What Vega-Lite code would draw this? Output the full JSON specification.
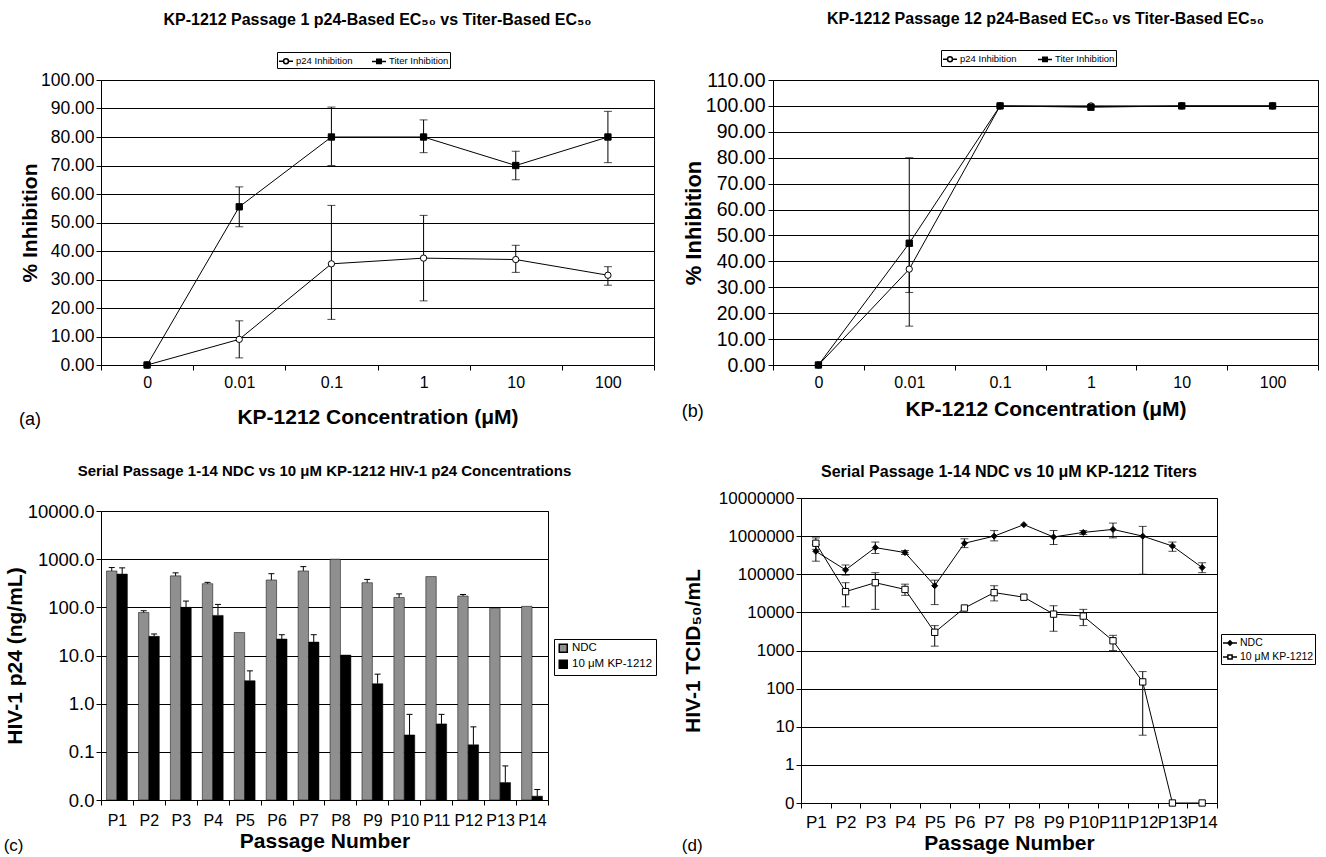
{
  "$schema": "https://vega.github.io/schema/vega-lite/v6.json",
  "padding": {"left": 3, "top": 10, "right": 0, "bottom": 0},
  "background": "white",
  "config": {
    "font": "Liberation Sans",
    "view": {"stroke": "black", "strokeWidth": 1},
    "axis": {"labelColor": "black", "titleColor": "black", "domainColor": "black", "tickColor": "black", "gridColor": "black", "gridOpacity": 1, "gridWidth": 1, "labelFont": "Liberation Sans", "titleFont": "Liberation Sans", "titleFontWeight": "bold", "tickSize": 5, "labelOverlap": false},
    "title": {"color": "black", "fontWeight": "bold", "font": "Liberation Sans"},
    "legend": {"labelColor": "black", "labelFont": "Liberation Sans"}
  },
  "resolve": {"scale": {"fill": "independent", "shape": "independent"}, "legend": {"fill": "independent", "shape": "independent"}},
  "datasets": {
    "a": [
      {"conc": "0", "series": "p24 Inhibition", "val": 0, "lo": null, "hi": null},
      {"conc": "0.01", "series": "p24 Inhibition", "val": 9, "lo": 2.5, "hi": 15.5},
      {"conc": "0.1", "series": "p24 Inhibition", "val": 35.5, "lo": 16, "hi": 56},
      {"conc": "1", "series": "p24 Inhibition", "val": 37.5, "lo": 22.5, "hi": 52.5},
      {"conc": "10", "series": "p24 Inhibition", "val": 37, "lo": 32.5, "hi": 42},
      {"conc": "100", "series": "p24 Inhibition", "val": 31.5, "lo": 28, "hi": 34.5},
      {"conc": "0", "series": "Titer Inhibition", "val": 0, "lo": null, "hi": null},
      {"conc": "0.01", "series": "Titer Inhibition", "val": 55.5, "lo": 48.5, "hi": 62.5},
      {"conc": "0.1", "series": "Titer Inhibition", "val": 80, "lo": 70, "hi": 90.5},
      {"conc": "1", "series": "Titer Inhibition", "val": 80, "lo": 74.5, "hi": 86},
      {"conc": "10", "series": "Titer Inhibition", "val": 70, "lo": 65, "hi": 75},
      {"conc": "100", "series": "Titer Inhibition", "val": 80, "lo": 71, "hi": 89}
    ],
    "b": [
      {"conc": "0", "series": "p24 Inhibition", "val": 0, "lo": null, "hi": null},
      {"conc": "0.01", "series": "p24 Inhibition", "val": 37, "lo": 28, "hi": 46},
      {"conc": "0.1", "series": "p24 Inhibition", "val": 100, "lo": null, "hi": null},
      {"conc": "1", "series": "p24 Inhibition", "val": 100, "lo": null, "hi": null},
      {"conc": "10", "series": "p24 Inhibition", "val": 100, "lo": null, "hi": null},
      {"conc": "100", "series": "p24 Inhibition", "val": 100, "lo": null, "hi": null},
      {"conc": "0", "series": "Titer Inhibition", "val": 0, "lo": null, "hi": null},
      {"conc": "0.01", "series": "Titer Inhibition", "val": 47, "lo": 15, "hi": 80},
      {"conc": "0.1", "series": "Titer Inhibition", "val": 100, "lo": null, "hi": null},
      {"conc": "1", "series": "Titer Inhibition", "val": 99.5, "lo": null, "hi": null},
      {"conc": "10", "series": "Titer Inhibition", "val": 100, "lo": null, "hi": null},
      {"conc": "100", "series": "Titer Inhibition", "val": 100, "lo": null, "hi": null}
    ],
    "c": [
      {"passage": "P1", "group": "NDC", "val": 570, "err": 670},
      {"passage": "P2", "group": "NDC", "val": 78, "err": 85},
      {"passage": "P3", "group": "NDC", "val": 450, "err": 520},
      {"passage": "P4", "group": "NDC", "val": 310, "err": 330},
      {"passage": "P5", "group": "NDC", "val": 30, "err": null},
      {"passage": "P6", "group": "NDC", "val": 370, "err": 500},
      {"passage": "P7", "group": "NDC", "val": 570, "err": 700},
      {"passage": "P8", "group": "NDC", "val": 1000, "err": null},
      {"passage": "P9", "group": "NDC", "val": 325, "err": 380},
      {"passage": "P10", "group": "NDC", "val": 160, "err": 190},
      {"passage": "P11", "group": "NDC", "val": 435, "err": null},
      {"passage": "P12", "group": "NDC", "val": 172, "err": 185},
      {"passage": "P13", "group": "NDC", "val": 95, "err": null},
      {"passage": "P14", "group": "NDC", "val": 105, "err": null},
      {"passage": "P1", "group": "10 μM KP-1212", "val": 490, "err": 660},
      {"passage": "P2", "group": "10 μM KP-1212", "val": 25, "err": 28},
      {"passage": "P3", "group": "10 μM KP-1212", "val": 100, "err": 135},
      {"passage": "P4", "group": "10 μM KP-1212", "val": 68, "err": 115},
      {"passage": "P5", "group": "10 μM KP-1212", "val": 3.0, "err": 4.8},
      {"passage": "P6", "group": "10 μM KP-1212", "val": 22, "err": 27},
      {"passage": "P7", "group": "10 μM KP-1212", "val": 19, "err": 27},
      {"passage": "P8", "group": "10 μM KP-1212", "val": 10.2, "err": null},
      {"passage": "P9", "group": "10 μM KP-1212", "val": 2.6, "err": 4.1},
      {"passage": "P10", "group": "10 μM KP-1212", "val": 0.224, "err": 0.6},
      {"passage": "P11", "group": "10 μM KP-1212", "val": 0.38, "err": 0.6},
      {"passage": "P12", "group": "10 μM KP-1212", "val": 0.14, "err": 0.33},
      {"passage": "P13", "group": "10 μM KP-1212", "val": 0.023, "err": 0.051},
      {"passage": "P14", "group": "10 μM KP-1212", "val": 0.012, "err": 0.0165}
    ],
    "d": [
      {"passage": "P1", "group": "NDC", "val": 400000, "lo": 220000, "hi": 600000},
      {"passage": "P2", "group": "NDC", "val": 130000, "lo": 95000, "hi": 175000},
      {"passage": "P3", "group": "NDC", "val": 500000, "lo": 350000, "hi": 700000},
      {"passage": "P4", "group": "NDC", "val": 370000, "lo": 330000, "hi": 420000},
      {"passage": "P5", "group": "NDC", "val": 50000, "lo": 16000, "hi": 70000},
      {"passage": "P6", "group": "NDC", "val": 650000, "lo": 500000, "hi": 850000},
      {"passage": "P7", "group": "NDC", "val": 1000000, "lo": 750000, "hi": 1400000},
      {"passage": "P8", "group": "NDC", "val": 2000000, "lo": null, "hi": null},
      {"passage": "P9", "group": "NDC", "val": 950000, "lo": 600000, "hi": 1400000},
      {"passage": "P10", "group": "NDC", "val": 1250000, "lo": 1100000, "hi": 1400000},
      {"passage": "P11", "group": "NDC", "val": 1500000, "lo": 900000, "hi": 2200000},
      {"passage": "P12", "group": "NDC", "val": 1000000, "lo": 100000, "hi": 1800000},
      {"passage": "P13", "group": "NDC", "val": 550000, "lo": 400000, "hi": 700000},
      {"passage": "P14", "group": "NDC", "val": 150000, "lo": 110000, "hi": 200000},
      {"passage": "P1", "group": "10 μM KP-1212", "val": 650000, "lo": 450000, "hi": 900000},
      {"passage": "P2", "group": "10 μM KP-1212", "val": 35000, "lo": 14000, "hi": 60000},
      {"passage": "P3", "group": "10 μM KP-1212", "val": 60000, "lo": 12000, "hi": 110000},
      {"passage": "P4", "group": "10 μM KP-1212", "val": 40000, "lo": 28000, "hi": 55000},
      {"passage": "P5", "group": "10 μM KP-1212", "val": 3000, "lo": 1300, "hi": 4500},
      {"passage": "P6", "group": "10 μM KP-1212", "val": 13000, "lo": null, "hi": null},
      {"passage": "P7", "group": "10 μM KP-1212", "val": 33000, "lo": 20000, "hi": 50000},
      {"passage": "P8", "group": "10 μM KP-1212", "val": 25000, "lo": null, "hi": null},
      {"passage": "P9", "group": "10 μM KP-1212", "val": 9000, "lo": 3200, "hi": 15000},
      {"passage": "P10", "group": "10 μM KP-1212", "val": 8000, "lo": 4500, "hi": 12000},
      {"passage": "P11", "group": "10 μM KP-1212", "val": 1800, "lo": 1000, "hi": 2500},
      {"passage": "P12", "group": "10 μM KP-1212", "val": 150, "lo": 6, "hi": 280},
      {"passage": "P13", "group": "10 μM KP-1212", "val": 0.1, "lo": null, "hi": null},
      {"passage": "P14", "group": "10 μM KP-1212", "val": 0.1, "lo": null, "hi": null}
    ]
  },
  "columns": 2,
  "align": "none",
  "spacing": {"row": 34, "column": 24},
  "concat": [
    {
      "title": {"text": "(a)", "orient": "bottom", "anchor": "start", "fontSize": 18, "fontWeight": "normal", "offset": -17},
      "vconcat": [
        {
          "width": 553, "height": 285,
          "data": {"name": "a"},
          "title": {"text": "KP-1212 Passage 1 p24-Based EC₅₀ vs Titer-Based EC₅₀", "fontSize": 16, "offset": 43},
          "encoding": {
            "x": {"field": "conc", "type": "nominal", "sort": ["0", "0.01", "0.1", "1", "10", "100"], "scale": {"type": "band", "paddingInner": 0, "paddingOuter": 0},
              "axis": {"title": "KP-1212 Concentration (μM)", "labelAngle": 0, "tickBand": "extent", "labelFontSize": 16, "labelPadding": 4, "titleFontSize": 21, "titlePadding": 16, "grid": false, "domain": false}},
            "y": {"field": "val", "type": "quantitative", "title": "% Inhibition", "scale": {"domain": [0, 100], "nice": false}, "axis": {"values": [0, 10, 20, 30, 40, 50, 60, 70, 80, 90, 100], "format": ".2f", "labelFontSize": 17.5, "titleFontSize": 21, "titlePadding": 0, "labelPadding": 2, "domain": false, "grid": true}}
          },
          "layer": [
            {"mark": {"type": "line", "color": "black", "strokeWidth": 1}, "encoding": {"detail": {"field": "series"}}},
            {"transform": [{"filter": "isValid(datum.lo)"}],
              "mark": {"type": "errorbar", "ticks": {"size": 8, "color": "black"}, "rule": {"color": "black"}, "color": "black"},
              "encoding": {"y": {"field": "lo", "type": "quantitative", "title": "% Inhibition"}, "y2": {"field": "hi"}}},
            {"transform": [{"filter": "datum.series == 'p24 Inhibition'"}],
              "mark": {"type": "point", "shape": "circle", "filled": true, "fill": "white", "stroke": "black", "strokeWidth": 1, "opacity": 1, "size": 40}},
            {"transform": [{"filter": "datum.series == 'Titer Inhibition'"}],
              "mark": {"type": "point", "shape": "square", "filled": true, "fill": "black", "stroke": "black", "strokeWidth": 1, "opacity": 1, "size": 40}},
            {"transform": [{"filter": "false"}],
              "mark": {"type": "point", "filled": true, "stroke": "black", "strokeWidth": 1, "opacity": 1},
              "encoding": {
                "shape": {"field": "series", "type": "nominal", "scale": {"domain": ["p24 Inhibition", "Titer Inhibition"], "range": ["M-1,0H-0.35M0.35,0H1M0.35,0A0.35,0.35,0,1,1,-0.35,0A0.35,0.35,0,1,1,0.35,0Z", "M-1,0H-0.32M0.32,0H1M-0.32,-0.32H0.32V0.32H-0.32Z"]},
                  "legend": {"orient": "none", "legendX": 176, "legendY": -28, "direction": "horizontal", "title": null, "strokeColor": "black", "padding": 1, "labelFontSize": 9.5, "labelOffset": 2, "columnPadding": 16, "symbolSize": 196, "encode": {"symbols": {"update": {"stroke": {"value": "black"}, "strokeWidth": {"value": 1}}}}}},
                "fill": {"field": "series", "type": "nominal", "scale": {"domain": ["p24 Inhibition", "Titer Inhibition"], "range": ["white", "black"]},
                  "legend": {"orient": "none", "legendX": 176, "legendY": -28, "direction": "horizontal", "title": null, "strokeColor": "black", "padding": 1, "labelFontSize": 9.5, "labelOffset": 2, "columnPadding": 16, "symbolSize": 196, "encode": {"symbols": {"update": {"stroke": {"value": "black"}, "strokeWidth": {"value": 1}}}}}}
              }}
          ]
        }
      ]
    },
    {
      "title": {"text": "(b)", "orient": "bottom", "anchor": "start", "fontSize": 18, "fontWeight": "normal", "offset": -17},
      "vconcat": [
        {
          "width": 545, "height": 285,
          "data": {"name": "b"},
          "title": {"text": "KP-1212 Passage 12 p24-Based EC₅₀ vs Titer-Based EC₅₀", "fontSize": 16, "offset": 43},
          "encoding": {
            "x": {"field": "conc", "type": "nominal", "sort": ["0", "0.01", "0.1", "1", "10", "100"], "scale": {"type": "band", "paddingInner": 0, "paddingOuter": 0},
              "axis": {"title": "KP-1212 Concentration (μM)", "labelAngle": 0, "tickBand": "extent", "labelFontSize": 16, "labelPadding": 4, "titleFontSize": 21, "titlePadding": 8, "grid": false, "domain": false}},
            "y": {"field": "val", "type": "quantitative", "title": "% Inhibition", "scale": {"domain": [0, 110], "nice": false}, "axis": {"values": [0, 10, 20, 30, 40, 50, 60, 70, 80, 90, 100, 110], "format": ".2f", "labelFontSize": 19.5, "titleFontSize": 22, "titlePadding": 0, "labelPadding": 3, "domain": false, "grid": true}}
          },
          "layer": [
            {"mark": {"type": "line", "color": "black", "strokeWidth": 1}, "encoding": {"detail": {"field": "series"}}},
            {"transform": [{"filter": "isValid(datum.lo)"}],
              "mark": {"type": "errorbar", "ticks": {"size": 8, "color": "black"}, "rule": {"color": "black"}, "color": "black"},
              "encoding": {"y": {"field": "lo", "type": "quantitative", "title": "% Inhibition"}, "y2": {"field": "hi"}}},
            {"transform": [{"filter": "datum.series == 'p24 Inhibition'"}],
              "mark": {"type": "point", "shape": "circle", "filled": true, "fill": "white", "stroke": "black", "strokeWidth": 1, "opacity": 1, "size": 40}},
            {"transform": [{"filter": "datum.series == 'Titer Inhibition'"}],
              "mark": {"type": "point", "shape": "square", "filled": true, "fill": "black", "stroke": "black", "strokeWidth": 1, "opacity": 1, "size": 40}},
            {"transform": [{"filter": "false"}],
              "mark": {"type": "point", "filled": true, "stroke": "black", "strokeWidth": 1, "opacity": 1},
              "encoding": {
                "shape": {"field": "series", "type": "nominal", "scale": {"domain": ["p24 Inhibition", "Titer Inhibition"], "range": ["M-1,0H-0.35M0.35,0H1M0.35,0A0.35,0.35,0,1,1,-0.35,0A0.35,0.35,0,1,1,0.35,0Z", "M-1,0H-0.32M0.32,0H1M-0.32,-0.32H0.32V0.32H-0.32Z"]},
                  "legend": {"orient": "none", "legendX": 168, "legendY": -30, "direction": "horizontal", "title": null, "strokeColor": "black", "padding": 1, "labelFontSize": 9.5, "labelOffset": 2, "columnPadding": 18, "symbolSize": 196, "encode": {"symbols": {"update": {"stroke": {"value": "black"}, "strokeWidth": {"value": 1}}}}}},
                "fill": {"field": "series", "type": "nominal", "scale": {"domain": ["p24 Inhibition", "Titer Inhibition"], "range": ["white", "black"]},
                  "legend": {"orient": "none", "legendX": 168, "legendY": -30, "direction": "horizontal", "title": null, "strokeColor": "black", "padding": 1, "labelFontSize": 9.5, "labelOffset": 2, "columnPadding": 18, "symbolSize": 196, "encode": {"symbols": {"update": {"stroke": {"value": "black"}, "strokeWidth": {"value": 1}}}}}}
              }}
          ]
        }
      ]
    },
    {
      "title": {"text": "(c)", "orient": "bottom", "anchor": "start", "fontSize": 17, "fontWeight": "normal", "offset": -14},
      "vconcat": [
        {
          "width": 447, "height": 289,
          "data": {"name": "c"},
          "title": {"text": "Serial Passage 1-14 NDC vs 10 μM KP-1212 HIV-1 p24 Concentrations", "fontSize": 15, "offset": 23},
          "encoding": {
            "x": {"field": "passage", "type": "nominal", "sort": ["P1", "P2", "P3", "P4", "P5", "P6", "P7", "P8", "P9", "P10", "P11", "P12", "P13", "P14"], "scale": {"type": "band", "paddingInner": 0, "paddingOuter": 0},
              "axis": {"title": "Passage Number", "labelAngle": 0, "tickBand": "extent", "labelFontSize": 16, "labelPadding": 7, "titleFontSize": 21, "titlePadding": 2, "grid": false, "domain": false}},
            "xOffset": {"field": "group", "type": "nominal", "sort": ["NDC", "10 μM KP-1212"], "scale": {"paddingInner": 0, "paddingOuter": 0.53}},
            "y": {"field": "val", "type": "quantitative", "title": "HIV-1 p24 (ng/mL)", "scale": {"type": "log", "domain": [0.01, 10000], "nice": false}, "axis": {"values": [0.01, 0.1, 1, 10, 100, 1000, 10000], "format": ".1f", "labelFontSize": 18.5, "titleFontSize": 21, "titlePadding": 2, "labelPadding": 2, "domain": false, "grid": true}}
          },
          "layer": [
            {"mark": {"type": "bar", "stroke": "black", "strokeWidth": 0.5},
              "encoding": {
                "y2": {"datum": 0.01},
                "fill": {"field": "group", "type": "nominal", "scale": {"domain": ["NDC", "10 μM KP-1212"], "range": ["#8f8f8f", "black"]},
                  "legend": {"orient": "none", "legendX": 453, "legendY": 128, "direction": "vertical", "title": null, "strokeColor": "black", "padding": 3.5, "labelFontSize": 11.5, "labelOffset": 3, "rowPadding": 1, "symbolType": "square", "symbolSize": 64,
                    "encode": {"symbols": {"update": {"stroke": {"value": "black"}, "strokeWidth": {"value": 0.5}}}}}}
              }},
            {"transform": [{"filter": "isValid(datum.err)"}],
              "mark": {"type": "rule", "color": "black", "strokeWidth": 1},
              "encoding": {"y2": {"field": "err"}}},
            {"transform": [{"filter": "isValid(datum.err)"}],
              "mark": {"type": "tick", "color": "black", "thickness": 1, "size": 6, "orient": "horizontal", "opacity": 1},
              "encoding": {"y": {"field": "err", "type": "quantitative", "title": "HIV-1 p24 (ng/mL)"}}}
          ]
        }
      ]
    },
    {
      "title": {"text": "(d)", "orient": "bottom", "anchor": "start", "fontSize": 17, "fontWeight": "normal", "offset": -16},
      "vconcat": [
        {
          "width": 416, "height": 305,
          "data": {"name": "d"},
          "title": {"text": "Serial Passage 1-14 NDC vs 10 μM KP-1212 Titers", "fontSize": 16, "offset": 9},
          "encoding": {
            "x": {"field": "passage", "type": "nominal", "sort": ["P1", "P2", "P3", "P4", "P5", "P6", "P7", "P8", "P9", "P10", "P11", "P12", "P13", "P14"], "scale": {"type": "band", "paddingInner": 0, "paddingOuter": 0},
              "axis": {"title": "Passage Number", "labelAngle": 0, "tickBand": "extent", "labelFontSize": 17, "labelPadding": 6, "titleFontSize": 21, "titlePadding": 2, "grid": false, "domain": false}},
            "y": {"field": "val", "type": "quantitative", "title": "HIV-1 TCID₅₀/mL", "scale": {"type": "log", "domain": [0.1, 10000000], "nice": false}, "axis": {"values": [0.1, 1, 10, 100, 1000, 10000, 100000, 1000000, 10000000], "format": ".0f", "labelFontSize": 17, "titleFontSize": 21, "titlePadding": 15, "labelPadding": 2, "domain": false, "grid": true}}
          },
          "layer": [
            {"mark": {"type": "line", "color": "black", "strokeWidth": 1}, "encoding": {"detail": {"field": "group"}}},
            {"transform": [{"filter": "isValid(datum.lo)"}],
              "mark": {"type": "errorbar", "ticks": {"size": 8, "color": "black"}, "rule": {"color": "black"}, "color": "black"},
              "encoding": {"y": {"field": "lo", "type": "quantitative", "title": "HIV-1 TCID₅₀/mL"}, "y2": {"field": "hi"}}},
            {"transform": [{"filter": "datum.group == 'NDC'"}],
              "mark": {"type": "point", "shape": "diamond", "filled": true, "fill": "black", "stroke": "black", "strokeWidth": 1, "opacity": 1, "size": 36}},
            {"transform": [{"filter": "datum.group != 'NDC'"}],
              "mark": {"type": "point", "shape": "square", "filled": true, "fill": "white", "stroke": "black", "strokeWidth": 1, "opacity": 1, "size": 40}},
            {"transform": [{"filter": "false"}],
              "mark": {"type": "point", "filled": true, "stroke": "black", "strokeWidth": 1, "opacity": 1},
              "encoding": {
                "shape": {"field": "group", "type": "nominal", "scale": {"domain": ["NDC", "10 μM KP-1212"], "range": ["M-1,0H-0.32M0.32,0H1M0,-0.32L0.32,0L0,0.32L-0.32,0Z", "M-1,0H-0.3M0.3,0H1M-0.3,-0.3H0.3V0.3H-0.3Z"]},
                  "legend": {"orient": "none", "legendX": 420, "legendY": 136, "direction": "vertical", "title": null, "strokeColor": "black", "padding": 1, "labelFontSize": 10.5, "labelOffset": 2, "rowPadding": 0, "symbolSize": 196, "encode": {"symbols": {"update": {"stroke": {"value": "black"}, "strokeWidth": {"value": 1}}}}}},
                "fill": {"field": "group", "type": "nominal", "scale": {"domain": ["NDC", "10 μM KP-1212"], "range": ["black", "white"]},
                  "legend": {"orient": "none", "legendX": 420, "legendY": 136, "direction": "vertical", "title": null, "strokeColor": "black", "padding": 1, "labelFontSize": 10.5, "labelOffset": 2, "rowPadding": 0, "symbolSize": 196, "encode": {"symbols": {"update": {"stroke": {"value": "black"}, "strokeWidth": {"value": 1}}}}}}
              }}
          ]
        }
      ]
    }
  ]
}
